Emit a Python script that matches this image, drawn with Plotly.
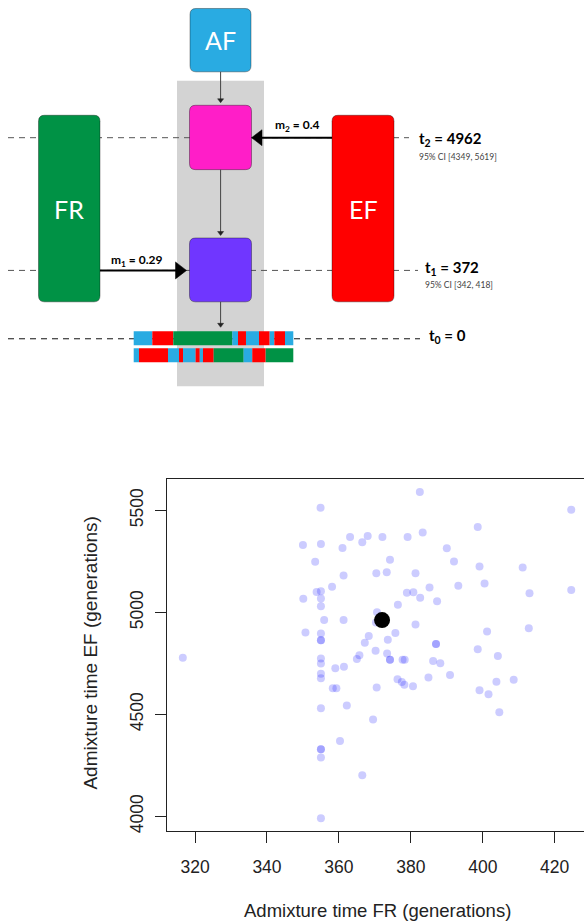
import plotly.graph_objects as go

W, H = 584, 924

# ---------------- scatter data (bootstrap admixture times) ----------------
fr_time = [316.6, 354.9, 382.5, 424.6, 398.6, 350.0, 355.0, 363.1, 368.0, 366.5,
           372.1, 379.1, 383.3, 361.0, 390.0, 353.4, 374.2, 392.0, 399.1, 411.1,
           361.3, 370.4, 373.3, 381.3, 400.5, 358.1, 385.2, 393.2, 353.8, 355.0,
           355.0, 350.1, 378.9, 380.7, 382.6, 413.0, 424.6, 387.3, 355.0, 376.4,
           370.6, 355.9, 361.3, 370.3, 381.3, 350.7, 355.0, 355.0, 355.0, 368.3,
           375.7, 373.6, 367.2, 387.0, 387.0, 401.2, 412.8, 370.2, 373.4, 365.7,
           365.0, 374.2, 374.2, 377.7, 378.3, 355.0, 355.0, 386.2, 388.2, 398.6,
           404.2, 359.0, 361.4, 355.0, 355.0, 390.9, 384.9, 376.3, 377.5, 378.2,
           380.6, 358.3, 359.3, 370.5, 403.8, 408.6, 399.1, 401.6, 355.0, 362.2,
           369.5, 404.6, 360.3, 355.0, 355.0, 355.0, 366.5, 355.0]
ef_time = [4777, 5513, 5590, 5503, 5419, 5330, 5335, 5370, 5374, 5344,
           5370, 5370, 5392, 5315, 5314, 5248, 5258, 5249, 5225, 5220,
           5181, 5192, 5197, 5192, 5142, 5125, 5122, 5130, 5100, 5104,
           5068, 5067, 5096, 5098, 5072, 5094, 5109, 5055, 5030, 5037,
           5001, 4962, 4962, 4950, 4941, 4901, 4896, 4863, 4863, 4884,
           4899, 4866, 4851, 4845, 4845, 4906, 4922, 4812, 4798, 4790,
           4771, 4767, 4767, 4768, 4768, 4774, 4749, 4762, 4750, 4819,
           4786, 4726, 4733, 4699, 4677, 4693, 4680, 4672, 4658, 4645,
           4638, 4628, 4628, 4632, 4660, 4669, 4618, 4598, 4530, 4543,
           4475, 4510, 4369, 4329, 4329, 4288, 4201, 3991]
est_fr = [372]
est_ef = [4962]
x_ticks = [320, 340, 360, 380, 400, 420]
y_ticks = [4000, 4500, 5000, 5500]
x_title = "Admixture time FR (generations)"
y_title = "Admixture time EF (generations)"

# ---------------- diagram data ----------------
t_names = ["t<sub>2</sub>", "t<sub>1</sub>", "t<sub>0</sub>"]
t_values = [4962, 372, 0]
t_ci = [[4349, 5619], [342, 418], None]
m_names = ["m<sub>2</sub>", "m<sub>1</sub>"]
m_values = [0.4, 0.29]
# ancestry tracts along two admixed chromosomes (fraction of chromosome length)
chrom1_breaks = [0, 0.1165, 0.248, 0.618, 0.6535, 0.7036, 0.785, 0.852, 0.881, 0.948, 1]
chrom1_anc = ["AF", "EF", "FR", "AF", "EF", "AF", "EF", "AF", "EF", "AF"]
chrom2_breaks = [0, 0.033, 0.215, 0.284, 0.309, 0.388, 0.414, 0.434, 0.501, 0.689, 0.743, 0.827, 1]
chrom2_anc = ["AF", "EF", "AF", "EF", "AF", "EF", "AF", "EF", "FR", "AF", "EF", "FR"]

# ---------------- styles ----------------
COL = {"AF": "#29ABE2", "EF": "#FF0000", "FR": "#009245"}
PINK = "#FF1EC8"
PURPLE = "#7036FF"
GRAY = "#D3D3D3"
DFONT = "Lato"
SFONT = "Liberation Sans, Arial, sans-serif"

fig = go.Figure()

# scatter panel
fig.add_trace(go.Scatter(x=fr_time, y=ef_time, mode="markers",
                         marker=dict(size=8, color="rgba(0,0,255,0.2)", line=dict(width=0)),
                         hoverinfo="x+y", xaxis="x", yaxis="y"))
fig.add_trace(go.Scatter(x=est_fr, y=est_ef, mode="markers",
                         marker=dict(size=16, color="black", line=dict(width=0)),
                         xaxis="x", yaxis="y"))
# dummy trace for diagram canvas
fig.add_trace(go.Scatter(x=[None], y=[None], xaxis="x2", yaxis="y2", hoverinfo="skip"))

shapes = []
ann = []


def rrect(x0, y0, x1, y1, r):
    return (f"M{x0+r},{y0} L{x1-r},{y0} Q{x1},{y0} {x1},{y0+r} L{x1},{y1-r} "
            f"Q{x1},{y1} {x1-r},{y1} L{x0+r},{y1} Q{x0},{y1} {x0},{y1-r} "
            f"L{x0},{y0+r} Q{x0},{y0} {x0+r},{y0} Z")


def add_box(x0, y0, x1, y1, color, r=6):
    shapes.append(dict(type="path", xref="x2", yref="y2", path=rrect(x0, y0, x1, y1, r),
                       fillcolor=color, line=dict(color="rgba(0,0,0,0.35)", width=1)))


def add_line(x0, y0, x1, y1, color, width=1, dash="solid"):
    shapes.append(dict(type="line", xref="x2", yref="y2", x0=x0, y0=y0, x1=x1, y1=y1,
                       line=dict(color=color, width=width, dash=dash)))


def add_tri(pts, color):
    p = "M" + " L".join(f"{a},{b}" for a, b in pts) + " Z"
    shapes.append(dict(type="path", xref="x2", yref="y2", path=p, fillcolor=color,
                       line=dict(color=color, width=0.5)))


# gray admixed-population column
shapes.append(dict(type="rect", xref="x2", yref="y2", x0=177, y0=81, x1=264, y1=387,
                   fillcolor=GRAY, line=dict(width=0)))

# time lines
t_y = [138, 271, 339.5]
t_xend = [409, 418, 420]
t_col = ["#555555", "#555555", "#111111"]
for yy, xe, c in zip(t_y, t_xend, t_col):
    add_line(8, yy, xe, yy, c, 1, "6px,5px")

# boxes
add_box(190, 8.5, 251, 72, COL["AF"])
add_box(189.5, 105.5, 251.5, 170, PINK)
add_box(189.5, 238.5, 251.5, 302.5, PURPLE)
add_box(38.5, 115.5, 100, 302.5, COL["FR"])
add_box(332, 115.5, 394, 302.5, COL["EF"])

# chromosomes
cx0, cx1 = 133.7, 293.3
for breaks, anc, (y0, y1) in [(chrom1_breaks, chrom1_anc, (332, 346)),
                              (chrom2_breaks, chrom2_anc, (349, 363))]:
    for i, a in enumerate(anc):
        shapes.append(dict(type="rect", xref="x2", yref="y2",
                           x0=cx0 + breaks[i] * (cx1 - cx0), x1=cx0 + breaks[i + 1] * (cx1 - cx0),
                           y0=y0, y1=y1, fillcolor=COL[a], line=dict(width=0)))

# thin vertical arrows
ax = 220.6
for ys, ye in [(72, 100), (170, 233), (302.5, 325)]:
    add_line(ax, ys, ax, ye, "#444444", 1)
    add_tri([(ax - 3, ye - 1), (ax + 3, ye - 1), (ax, ye + 3)], "#222222")

# migration arrows
add_line(332, t_y[0], 262, t_y[0], "black", 2)
add_tri([(262, t_y[0] - 8), (262, t_y[0] + 8), (251.5, t_y[0])], "black")
add_line(100, t_y[1], 176, t_y[1], "black", 2)
add_tri([(175.5, t_y[1] - 8.5), (175.5, t_y[1] + 8.5), (186.5, t_y[1])], "black")

# population labels
for name, (x, y) in zip(["AF", "FR", "EF"], [(220.5, 40), (69, 209), (363, 209)]):
    ann.append(dict(x=x, y=y, xref="x2", yref="y2", text=name, showarrow=False,
                    font=dict(family=DFONT, size=25, color="white"),
                    xanchor="center", yanchor="middle"))

# migration labels
for nm, mv, (x, y) in zip(m_names, m_values, [(297, 126), (136.5, 261)]):
    ann.append(dict(x=x, y=y, xref="x2", yref="y2", text=f"<b>{nm} = {mv}</b>", showarrow=False,
                    font=dict(family=DFONT, size=12, color="black"),
                    xanchor="center", yanchor="middle"))

# time labels
t_pos = [(417, 139), (423, 269), (426.5, 337)]
ci_y = [157, 286]
for i, (nm, tv) in enumerate(zip(t_names, t_values)):
    x, y = t_pos[i]
    ann.append(dict(x=x, y=y, xref="x2", yref="y2", text=f"<b>{nm} = {tv}</b>", showarrow=False,
                    font=dict(family=DFONT, size=15, color="black"),
                    xanchor="left", yanchor="middle"))
    if t_ci[i] is not None:
        ann.append(dict(x=x, y=ci_y[i], xref="x2", yref="y2",
                        text=f"95% CI [{t_ci[i][0]}, {t_ci[i][1]}]", showarrow=False,
                        font=dict(family=DFONT, size=8.5, color="#444444"),
                        xanchor="left", yanchor="middle"))

# axis titles for scatter
ann.append(dict(x=377 / W, y=1 - 912 / H, xref="paper", yref="paper", text=x_title,
                showarrow=False, font=dict(family=SFONT, size=18.5, color="#222222"),
                xanchor="center", yanchor="middle"))
ann.append(dict(x=91 / W, y=1 - 654 / H, xref="paper", yref="paper", text=y_title,
                showarrow=False, textangle=-90, font=dict(family=SFONT, size=19, color="#222222"),
                xanchor="center", yanchor="middle"))

axfont = dict(family=SFONT, size=17.5, color="#222222")
fig.update_layout(
    width=W, height=H, margin=dict(l=0, r=0, t=0, b=0),
    paper_bgcolor="white", plot_bgcolor="white", showlegend=False,
    shapes=shapes, annotations=ann,
    xaxis=dict(domain=[167 / W, 1], range=[312.2, 428.15], showline=True, mirror=True,
               linecolor="#222222", linewidth=1, ticks="outside", ticklen=11, tickwidth=1,
               tickcolor="#222222", tickvals=x_ticks, ticktext=[str(v) for v in x_ticks],
               showgrid=False, zeroline=False, tickfont=axfont, ticklabelstandoff=9,
               anchor="y"),
    yaxis=dict(domain=[1 - 833 / H, 1 - 480 / H], range=[3927, 5654], showline=True, mirror=False,
               linecolor="#222222", linewidth=1, ticks="outside", ticklen=11, tickwidth=1,
               tickcolor="#222222", tickvals=y_ticks, ticktext=[str(v) for v in y_ticks],
               tickangle=-90, showgrid=False, zeroline=False, tickfont=axfont,
               ticklabelstandoff=5, anchor="x"),
    xaxis2=dict(domain=[0, 1], range=[0, W], visible=False, anchor="y2", fixedrange=True),
    yaxis2=dict(domain=[1 - 400 / H, 1], range=[400, 0], visible=False, anchor="x2", fixedrange=True),
)

fig.write_html("out.html")
